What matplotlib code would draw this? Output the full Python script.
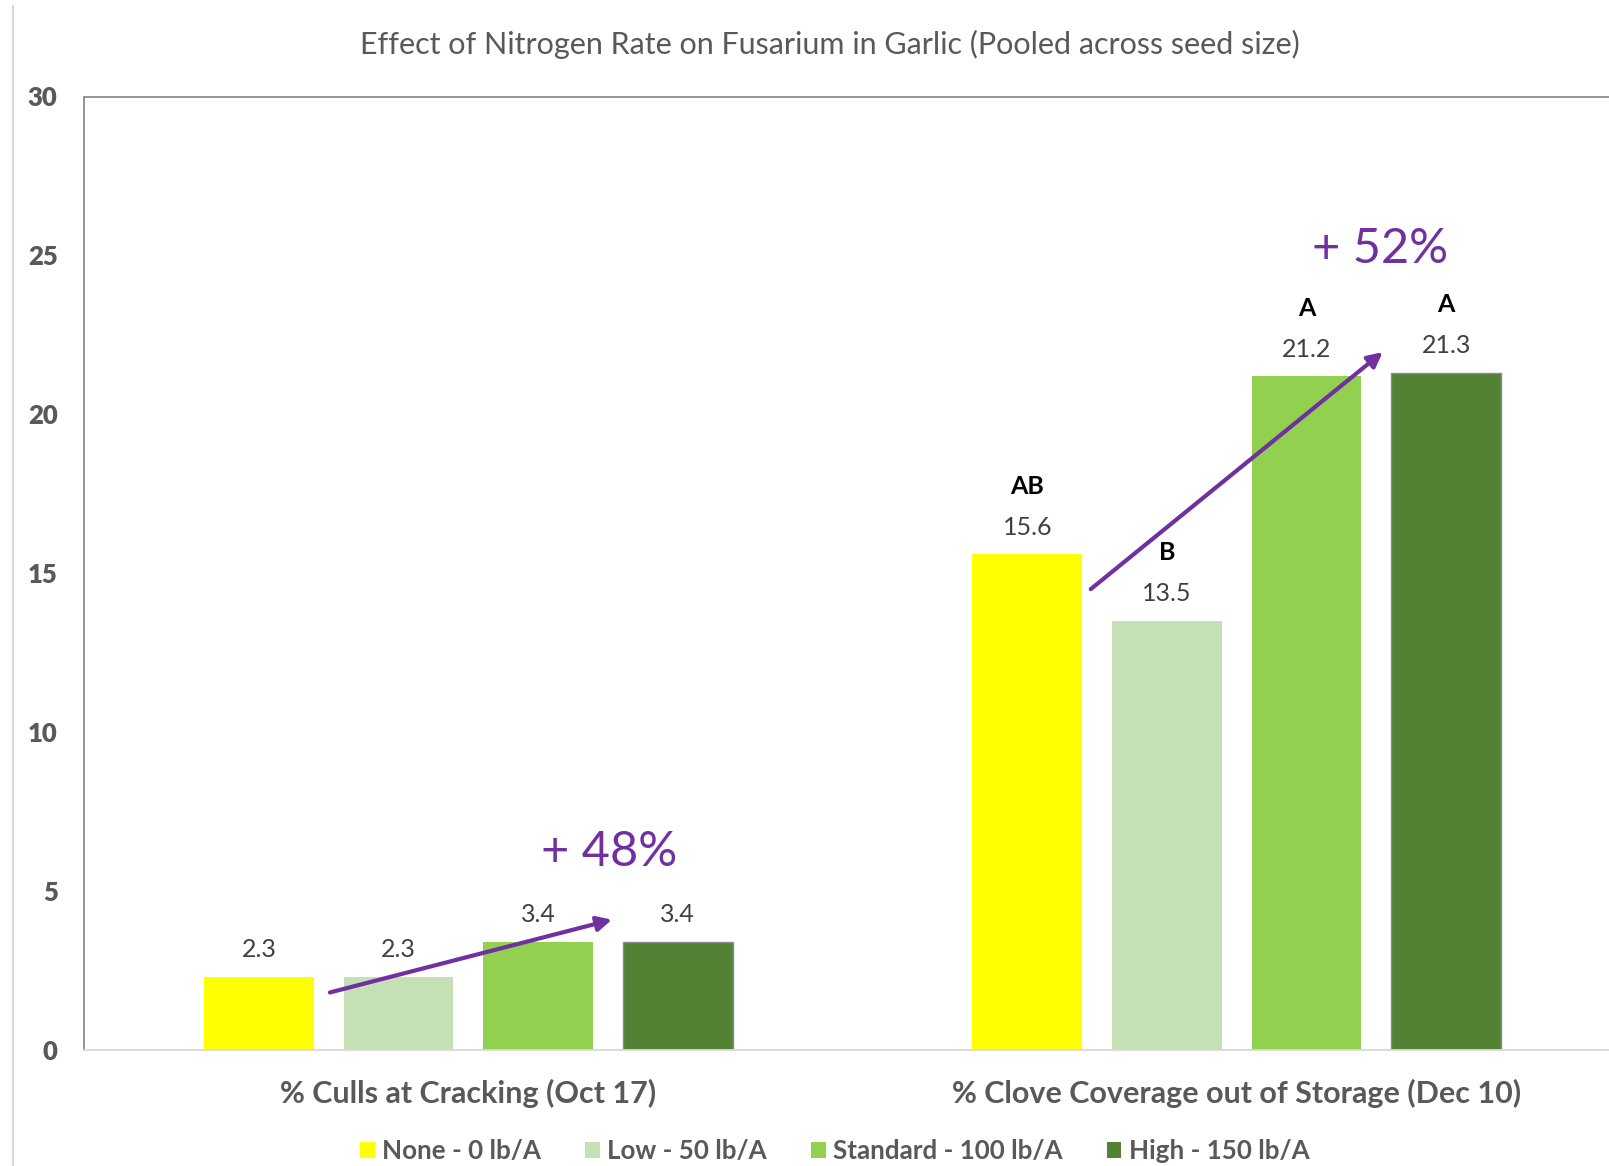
import numpy as np
import matplotlib
matplotlib.use("Agg")
import matplotlib.pyplot as plt
from matplotlib.lines import Line2D
from matplotlib.patches import Patch

plt.rcParams['font.family'] = ['Lato', 'DejaVu Sans']

# Data
categories = ["% Culls at Cracking (Oct 17)", "% Clove Coverage out of Storage (Dec 10)"]
series_names = ["None - 0 lb/A", "Low - 50 lb/A", "Standard - 100 lb/A", "High - 150 lb/A"]
none_vals = [2.3, 15.6]
low_vals = [2.3, 13.5]
standard_vals = [3.4, 21.2]
high_vals = [3.4, 21.3]
letters_none = ["", "AB"]
letters_low = ["", "B"]
letters_standard = ["", "A"]
letters_high = ["", "A"]
colors = ["#FFFF00", "#C5E0B4", "#92D050", "#548235"]

# purple trend arrows and their labels (data coords)
arrow_starts = [(-0.18, 1.81), (0.81, 14.5)]
arrow_ends = [(0.187, 4.10), (1.19, 21.96)]
change_labels = ["+ 48%", "+ 52%"]
change_label_pos = [(0.183, 6.23), (1.187, 25.19)]

values = [none_vals, low_vals, standard_vals, high_vals]
letters = [letters_none, letters_low, letters_standard, letters_high]

fig = plt.figure(figsize=(16.09, 11.66), dpi=100)
ax = fig.add_axes([84 / 1609, 1 - 1050 / 1166, 1537 / 1609, 953.5 / 1166])

x = np.arange(len(categories))
width = 0.143
step = 0.1816
for i, (vals, lets) in enumerate(zip(values, letters)):
    pos = x + (i - 1.5) * step
    edge = "#8c8c8c" if i == 3 else "none"
    ax.bar(pos, vals, width, color=colors[i], edgecolor=edge, linewidth=1, label=series_names[i])
    for p, v, l in zip(pos, vals, lets):
        ax.annotate(f"{v}", (p, v), xytext=(0, 19.5), textcoords="offset points",
                    ha="center", va="center", fontsize=18, color="#404040")
        if l:
            ax.annotate(l, (p, v), xytext=(0, 49), textcoords="offset points",
                        ha="center", va="center", fontsize=18, fontweight="bold", color="black")

purple = "#7030A0"
for s, e in zip(arrow_starts, arrow_ends):
    ax.annotate("", xy=e, xytext=s,
                arrowprops=dict(arrowstyle="-|>", color=purple, lw=3, mutation_scale=22,
                                shrinkA=0, shrinkB=0))
for t, p in zip(change_labels, change_label_pos):
    ax.text(p[0], p[1], t, ha="center", va="center", fontsize=35, color=purple)

ax.set_xlim(-0.5, 1.5)
ax.set_ylim(0, 30)
ax.set_yticks(range(0, 31, 5))
ax.set_xticks(x)
ax.set_xticklabels(categories, fontsize=22, fontweight="bold", color="#595959")
for lab in ax.get_yticklabels():
    lab.set_fontweight("heavy")
ax.tick_params(axis="y", length=0, pad=19, labelsize=18.5, labelcolor="#595959")
ax.tick_params(axis="x", length=0, pad=21)

ax.spines["right"].set_visible(False)
ax.spines["left"].set_color("#8c8c8c")
ax.spines["top"].set_color("#8c8c8c")
ax.spines["bottom"].set_color("#d9d9d9")
for s in ["left", "top", "bottom"]:
    ax.spines[s].set_linewidth(1.3)

fig.text(830 / 1609, 1 - 44 / 1166, "Effect of Nitrogen Rate on Fusarium in Garlic (Pooled across seed size)",
         ha="center", va="center", fontsize=22, color="#595959")

# outer chart border on the left
fig.add_artist(Line2D([13 / 1609, 13 / 1609], [0, 1 - 6 / 1166], color="#d9d9d9", lw=1.5))

handles = [Patch(facecolor=c) for c in colors]
leg = fig.legend(handles, series_names, loc="center", bbox_to_anchor=(835 / 1609, 1 - 1151 / 1166),
                 ncol=4, frameon=False, handlelength=0.55, handleheight=0.6, handletextpad=0.3,
                 columnspacing=1.7, prop={"size": 18.7, "weight": "bold"})
for t in leg.get_texts():
    t.set_color("#595959")

fig.savefig("out.png", dpi=100)
